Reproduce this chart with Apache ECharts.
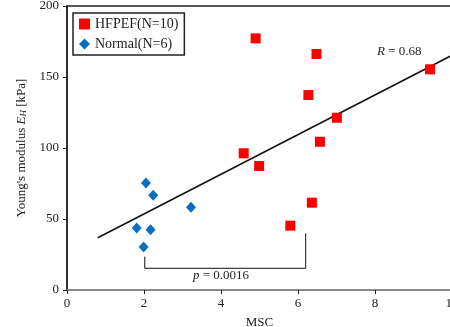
<!DOCTYPE html>
<html>
<head>
<meta charset="utf-8">
<script src="https://cdn.jsdelivr.net/npm/echarts@6/dist/echarts.min.js"></script>
<style>
  html, body { margin: 0; padding: 0; background: #fff; }
  #main { width: 450px; height: 327px; }
</style>
</head>
<body>
<div id="main"></div>
<script>
// data
var hfpefMsc = [4.90, 6.48, 9.43, 6.27, 7.01, 6.57, 4.59, 4.99, 6.36, 5.80];
var hfpefE   = [177.2, 166.2, 155.4, 137.3, 121.3, 104.4, 96.3, 87.3, 61.5, 45.3];
var normalMsc = [2.05, 2.24, 3.22, 1.81, 2.17, 1.99];
var normalE   = [75.4, 66.7, 58.2, 43.7, 42.5, 30.3];
// fit line end points
var fitMsc = [0.80, 9.95];
var fitE   = [36.8, 164.6];
// significance bracket
var bracketMsc = [2.02, 2.02, 6.20, 6.20];
var bracketE   = [23.5, 15.3, 15.3, 39.9];

function pairs(xs, ys) {
    return xs.map(function (x, i) { return [x, ys[i]]; });
}

var FONT = 'Liberation Serif';
var chart = echarts.init(document.getElementById('main'));
var option = {
    animation: false,
    textStyle: { fontFamily: FONT },
    grid: {
        left: 67, top: 6, right: -2, bottom: 37,
        outerBoundsMode: 'none',
        containLabel: false,
        show: true, borderColor: '#222', borderWidth: 1.5
    },
    legend: {
        left: 73, top: 13,
        orient: 'vertical',
        borderColor: '#222', borderWidth: 1.5,
        padding: [4, 6, 4, 6],
        itemGap: 6,
        itemWidth: 11, itemHeight: 11,
        textStyle: { fontFamily: FONT, fontSize: 14, color: '#222' },
        data: ['HFPEF(N=10)', 'Normal(N=6)']
    },
    xAxis: {
        type: 'value', min: 0, max: 10, interval: 2,
        name: 'MSC', nameLocation: 'middle', nameGap: 26,
        nameTextStyle: { fontFamily: FONT, fontSize: 13, color: '#222' },
        axisLine: { lineStyle: { color: '#999', width: 1.5 } },
        axisTick: { length: 4, lineStyle: { color: '#222' } },
        axisLabel: { fontFamily: FONT, fontSize: 13, color: '#222', margin: 7 },
        splitLine: { show: false }
    },
    yAxis: {
        type: 'value', min: 0, max: 200, interval: 50,
        name: "Young's modulus {i|E}{s|H} [kPa]", nameLocation: 'middle', nameGap: 37,
        nameTextStyle: {
            fontFamily: FONT, fontSize: 13, color: '#222',
            rich: {
                i: { fontFamily: FONT, fontSize: 13, fontStyle: 'italic', color: '#222' },
                s: { fontFamily: FONT, fontSize: 9, fontStyle: 'italic', color: '#222', padding: [5, 0, 0, 0] }
            }
        },
        axisLine: { lineStyle: { color: '#222', width: 1.5 } },
        axisTick: { length: 4, lineStyle: { color: '#222' } },
        axisLabel: { fontFamily: FONT, fontSize: 13, color: '#222', margin: 8 },
        splitLine: { show: false }
    },
    series: [{
        name: 'fit',
        type: 'line',
        data: pairs(fitMsc, fitE),
        symbol: 'none',
        lineStyle: { color: '#111', width: 1.5 },
        z: 1
    }, {
        name: 'bracket',
        type: 'line',
        data: pairs(bracketMsc, bracketE),
        symbol: 'none',
        lineStyle: { color: '#111', width: 1 },
        z: 1
    }, {
        name: 'HFPEF(N=10)',
        type: 'scatter',
        symbol: 'rect',
        symbolSize: 10,
        itemStyle: { color: '#ff0000', opacity: 1 },
        data: pairs(hfpefMsc, hfpefE),
        z: 3
    }, {
        name: 'Normal(N=6)',
        type: 'scatter',
        symbol: 'diamond',
        symbolSize: [10, 11],
        itemStyle: { color: '#0b6fc0', opacity: 1 },
        data: pairs(normalMsc, normalE),
        z: 3
    }],
    graphic: [{
        type: 'text', left: 193, top: 269,
        style: {
            text: '{i|p} = 0.0016',
            fontFamily: FONT, fontSize: 13, fill: '#222',
            rich: { i: { fontFamily: FONT, fontStyle: 'italic', fontSize: 13 } }
        }
    }, {
        type: 'text', left: 377, top: 45,
        style: {
            text: '{i|R} = 0.68',
            fontFamily: FONT, fontSize: 13, fill: '#222',
            rich: { i: { fontFamily: FONT, fontStyle: 'italic', fontSize: 13 } }
        }
    }]
};
chart.setOption(option);
</script>
</body>
</html>
